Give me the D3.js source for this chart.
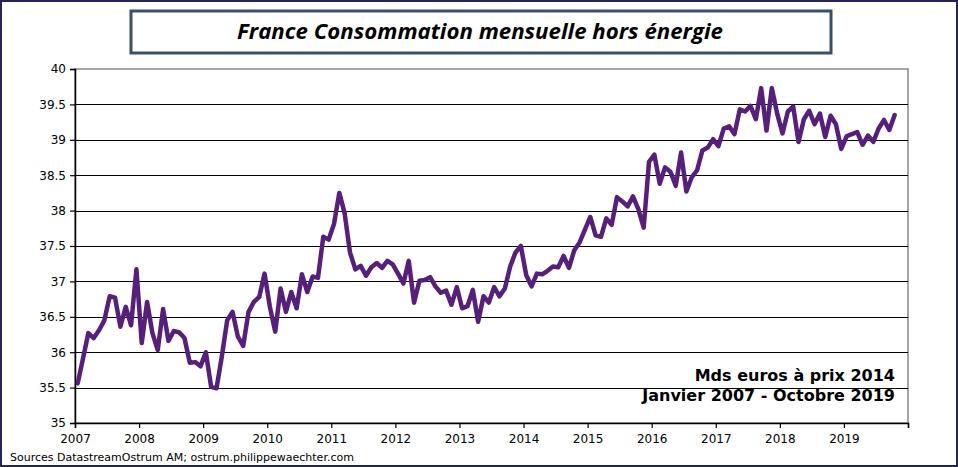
<!DOCTYPE html>
<html>
<head>
<meta charset="utf-8">
<script src="https://cdn.jsdelivr.net/npm/d3@7"></script>
<style>
  html, body { margin: 0; padding: 0; background: #fff; }
  svg { display: block; }
</style>
</head>
<body>
<svg id="chart" width="958" height="467"></svg>
<script>
// Monthly values, Mds euros (prix 2014), one array per year
const v2007 = [35.56, 35.91, 36.27, 36.20, 36.31, 36.45, 36.79, 36.77, 36.36, 36.64, 36.38, 37.17];
const v2008 = [36.13, 36.71, 36.27, 36.03, 36.61, 36.16, 36.30, 36.28, 36.20, 35.85, 35.86, 35.80];
const v2009 = [36.00, 35.51, 35.49, 35.94, 36.45, 36.57, 36.22, 36.09, 36.57, 36.71, 36.78, 37.11];
const v2010 = [36.64, 36.29, 36.90, 36.57, 36.85, 36.62, 37.10, 36.85, 37.07, 37.05, 37.63, 37.59];
const v2011 = [37.81, 38.25, 37.96, 37.41, 37.17, 37.22, 37.08, 37.20, 37.26, 37.19, 37.29, 37.24];
const v2012 = [37.11, 36.97, 37.29, 36.70, 37.01, 37.02, 37.06, 36.93, 36.84, 36.87, 36.67, 36.92];
const v2013 = [36.62, 36.65, 36.88, 36.43, 36.79, 36.70, 36.92, 36.79, 36.90, 37.21, 37.41, 37.50];
const v2014 = [37.09, 36.93, 37.11, 37.10, 37.15, 37.21, 37.20, 37.36, 37.19, 37.44, 37.55, 37.73];
const v2015 = [37.91, 37.65, 37.63, 37.89, 37.80, 38.19, 38.13, 38.06, 38.20, 38.02, 37.76, 38.69];
const v2016 = [38.79, 38.38, 38.61, 38.55, 38.35, 38.82, 38.27, 38.47, 38.57, 38.85, 38.89, 39.01];
const v2017 = [38.91, 39.16, 39.19, 39.08, 39.43, 39.40, 39.48, 39.29, 39.73, 39.13, 39.73, 39.37];
const v2018 = [39.09, 39.40, 39.47, 38.97, 39.29, 39.41, 39.22, 39.37, 39.04, 39.34, 39.22, 38.87];
const v2019 = [39.05, 39.08, 39.11, 38.93, 39.06, 38.97, 39.16, 39.28, 39.14, 39.35];

const years = [2007, 2008, 2009, 2010, 2011, 2012, 2013, 2014, 2015, 2016, 2017, 2018, 2019];
const yTicks = [35, 35.5, 36, 36.5, 37, 37.5, 38, 38.5, 39, 39.5, 40];
const title = 'France Consommation mensuelle hors énergie';
const noteLines = ['Mds euros à prix 2014', 'Janvier 2007 - Octobre 2019'];
const source = 'Sources DatastreamOstrum AM; ostrum.philippewaechter.com';

const series = [v2007, v2008, v2009, v2010, v2011, v2012, v2013, v2014, v2015, v2016, v2017, v2018, v2019]
  .flat()
  .map((v, i) => ({ t: 2007 + (i + 0.5) / 12, v }));

const W = 958, H = 467;
const plot = { left: 75, right: 908, top: 69, bottom: 423 };

const svg = d3.select('#chart');

// outer frame
svg.append('rect')
  .attr('x', 1).attr('y', 1)
  .attr('width', W - 2).attr('height', H - 2)
  .attr('fill', '#fff')
  .attr('stroke', '#27235c')
  .attr('stroke-width', 2);

// Scales
const x = d3.scaleLinear().domain([2007, 2020]).range([plot.left, plot.right]);
const y = d3.scaleLinear().domain([35, 40]).range([plot.bottom, plot.top]);

// plot border (top/right gray)
svg.append('rect')
  .attr('x', plot.left).attr('y', plot.top)
  .attr('width', plot.right - plot.left).attr('height', plot.bottom - plot.top)
  .attr('fill', 'none')
  .attr('stroke', '#888')
  .attr('stroke-width', 1.5);

// Grid lines
svg.append('g')
  .selectAll('line')
  .data(yTicks.slice(1, -1))
  .enter()
  .append('line')
  .attr('x1', plot.left).attr('x2', plot.right)
  .attr('y1', d => Math.round(y(d)) + 0.5).attr('y2', d => Math.round(y(d)) + 0.5)
  .attr('stroke', '#000')
  .attr('stroke-width', 1.2);

// Axes
const yAxis = svg.append('g')
  .attr('transform', `translate(${plot.left},0)`)
  .call(d3.axisLeft(y).tickValues(yTicks).tickSize(5).tickPadding(4).tickFormat(d3.format('')));

const xAxis = svg.append('g')
  .attr('transform', `translate(0,${plot.bottom})`)
  .call(d3.axisBottom(x).tickValues(years.concat([2020])).tickSize(5).tickPadding(6)
    .tickFormat(d => d === 2020 ? '' : d));

[yAxis, xAxis].forEach(ax => {
  ax.select('.domain').attr('stroke', '#000').attr('stroke-width', 1.5);
  ax.selectAll('.tick line').attr('stroke', '#000').attr('stroke-width', 1.2);
  ax.selectAll('text')
    .attr('fill', '#000')
    .style('font-family', 'DejaVu Sans, Verdana, sans-serif')
    .style('font-size', '12px');
});

// Line
const line = d3.line()
  .x(d => x(d.t))
  .y(d => y(d.v));

svg.append('path')
  .datum(series)
  .attr('d', line)
  .attr('fill', 'none')
  .attr('stroke', '#561f7a')
  .attr('stroke-width', 4.5)
  .attr('stroke-linejoin', 'round')
  .attr('stroke-linecap', 'round');

// Title box
svg.append('rect')
  .attr('x', 131).attr('y', 11)
  .attr('width', 700).attr('height', 42)
  .attr('fill', '#fff')
  .attr('stroke', '#3b5066')
  .attr('stroke-width', 3);

svg.append('text')
  .attr('x', 480).attr('y', 39)
  .attr('text-anchor', 'middle')
  .attr('textLength', 486)
  .attr('lengthAdjust', 'spacingAndGlyphs')
  .style('font-family', 'Open Sans, Liberation Sans, sans-serif')
  .style('font-size', '21px')
  .style('font-weight', 'bold')
  .style('font-style', 'italic')
  .text(title);

// Annotation
svg.append('g')
  .selectAll('text')
  .data(noteLines)
  .enter()
  .append('text')
  .attr('x', 895)
  .attr('y', (d, i) => 381 + i * 20)
  .attr('text-anchor', 'end')
  .style('font-family', 'DejaVu Sans, Verdana, sans-serif')
  .style('font-size', '16px')
  .style('font-weight', 'bold')
  .attr('fill', '#000')
  .text(d => d);

// Source
svg.append('text')
  .attr('x', 10).attr('y', 461)
  .style('font-family', 'DejaVu Sans, Verdana, sans-serif')
  .style('font-size', '11px')
  .attr('fill', '#000')
  .text(source);
</script>
</body>
</html>
